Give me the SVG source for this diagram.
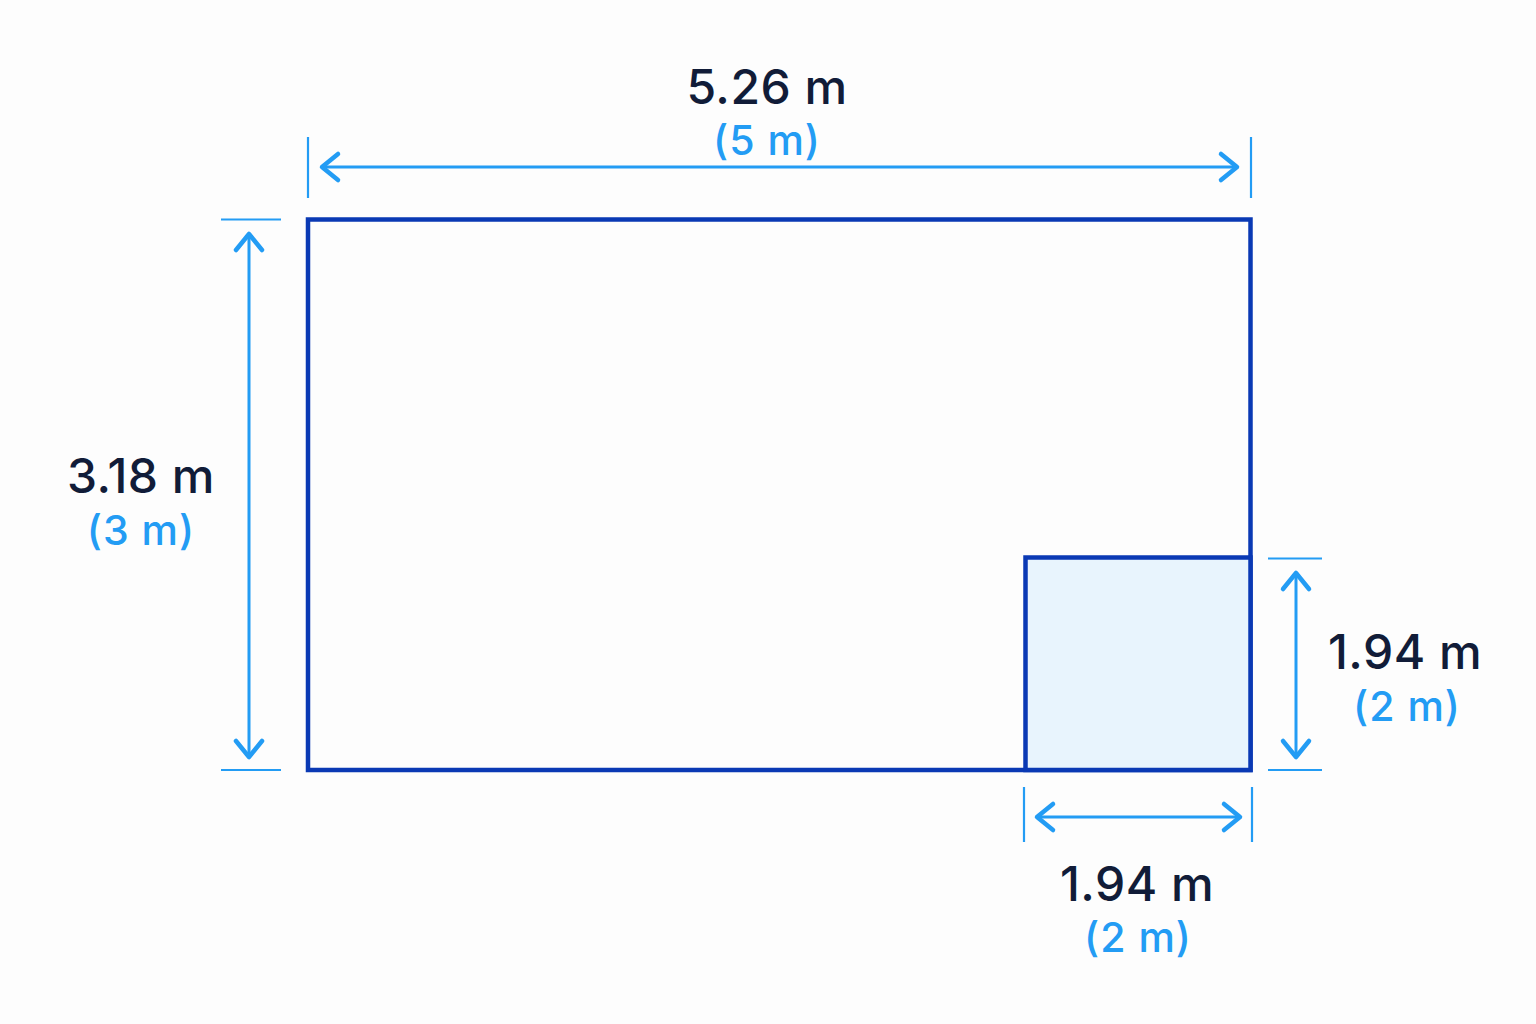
<svg xmlns="http://www.w3.org/2000/svg" width="1536" height="1024" viewBox="0 0 1536 1024">
<defs>
<marker id="chev" markerUnits="userSpaceOnUse" markerWidth="40" markerHeight="40" viewBox="-20 -20 40 40" refX="0" refY="0" orient="auto-start-reverse">
<path d="M-16,-13 L0,0 L-16,13" fill="none" stroke="#239cf4" stroke-width="4.5" stroke-linecap="round" stroke-linejoin="round"/>
</marker>
</defs>
<style>
.ext{stroke:#239cf4;stroke-width:2.2;fill:none}
.dim{stroke:#239cf4;stroke-width:3;fill:none;marker-start:url(#chev);marker-end:url(#chev)}
.val{font-family:Inter,"Open Sans",sans-serif;font-size:48px;font-weight:500;fill:#111c38;text-anchor:middle;letter-spacing:0.5px}
.sub{font-family:Inter,"Open Sans",sans-serif;font-size:41px;font-weight:500;fill:#239cf4;text-anchor:middle;letter-spacing:1px}
.wall{fill:none;stroke:#0a39b4;stroke-width:4.5}
</style>
<rect width="1536" height="1024" fill="#fdfdfd"/>
<g id="room">
<rect class="wall" x="308" y="219.5" width="942.5" height="550.5" fill="#ffffff"/>
</g>
<g id="cutout">
<rect x="1025.5" y="557.5" width="225" height="212.5" fill="#e8f4fd" stroke="#0a39b4" stroke-width="4.5"/>
</g>
<g id="connectors">
<line class="ext" x1="308" y1="137" x2="308" y2="198"/>
<line class="ext" x1="1251" y1="137" x2="1251" y2="198"/>
<line class="dim" x1="322" y1="167" x2="1237" y2="167"/>
<line class="ext" x1="221" y1="219.5" x2="281" y2="219.5"/>
<line class="ext" x1="221" y1="770" x2="281" y2="770"/>
<line class="dim" x1="249" y1="234" x2="249" y2="757"/>
<line class="ext" x1="1268" y1="558.5" x2="1322" y2="558.5"/>
<line class="ext" x1="1268" y1="770" x2="1322" y2="770"/>
<line class="dim" x1="1296" y1="573" x2="1296" y2="757"/>
<line class="ext" x1="1024" y1="787" x2="1024" y2="842"/>
<line class="ext" x1="1252" y1="787" x2="1252" y2="842"/>
<line class="dim" x1="1037" y1="817" x2="1240" y2="817"/>
</g>
<g id="labels">
<text class="val" x="767" y="104">5.26 m</text>
<text class="sub" x="767" y="155">(5 m)</text>
<text class="val" x="141" y="493">3.18 m</text>
<text class="sub" x="141" y="545">(3 m)</text>
<text class="val" x="1405" y="669">1.94 m</text>
<text class="sub" x="1407" y="721">(2 m)</text>
<text class="val" x="1137" y="901">1.94 m</text>
<text class="sub" x="1138" y="952">(2 m)</text>
</g>
</svg>
